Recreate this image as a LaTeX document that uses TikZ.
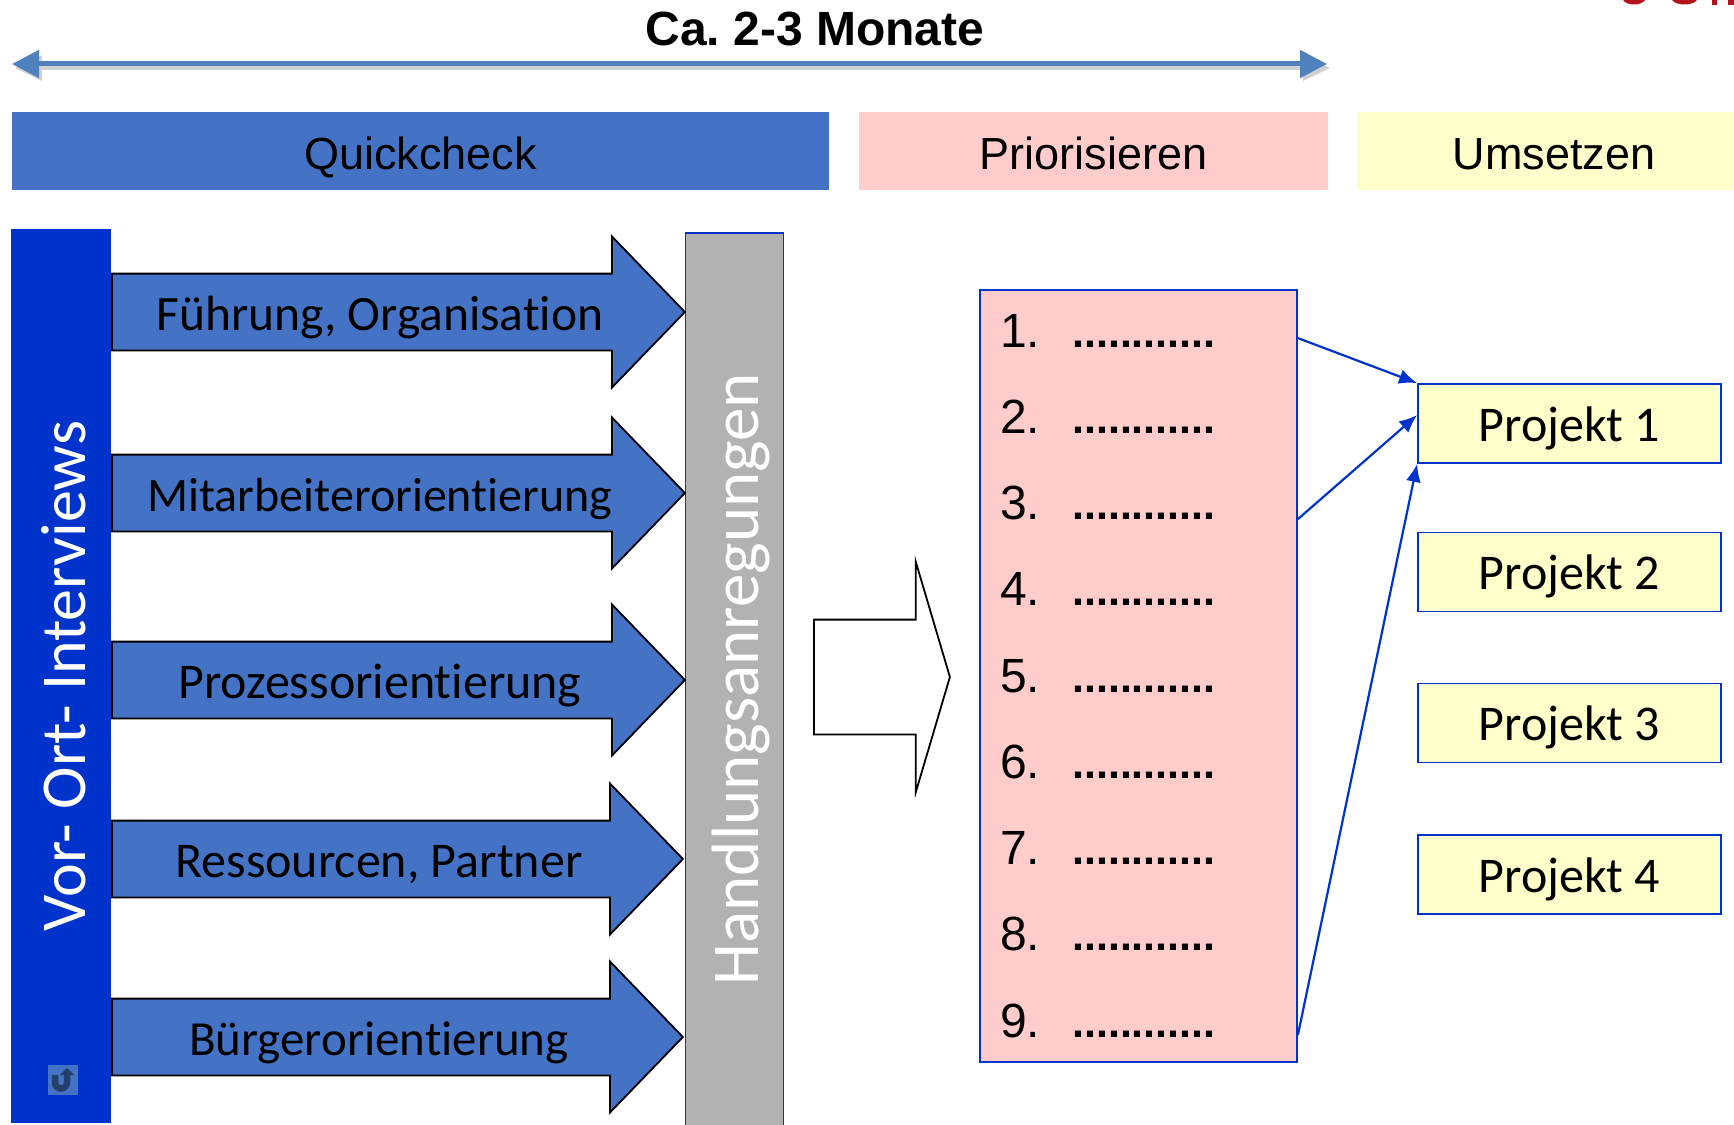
\documentclass[tikz,border=0pt]{standalone}
\usepackage{fontspec}
\setmainfont[Ligatures=NoCommon]{Carlito}
\newfontfamily\headfont{Liberation Sans}
\usepackage{tikz}
\usetikzlibrary{shapes,arrows,arrows.meta,calc,positioning}

\definecolor{barblue}{HTML}{0033CC}
\definecolor{flowblue}{HTML}{4472C4}
\definecolor{spanblue}{HTML}{4F81BD}
\definecolor{phasepink}{HTML}{FFCCCC}
\definecolor{phaseyellow}{HTML}{FFFFCC}
\definecolor{barcolor}{HTML}{B2B2B2}
\definecolor{cornerred}{HTML}{B5121B}

\tikzset{
  phase/.style={minimum height=78pt,inner sep=0pt,text height=42pt,text depth=6pt,font=\headfont\fontsize{45}{50}\selectfont},
  flow/.style={single arrow,anchor=tail,draw=black,line width=1.8pt,fill=flowblue,inner xsep=0pt,inner ysep=13.5pt,
    text height=42pt,text depth=6pt,font=\fontsize{50}{54}\selectfont,
    minimum height=573pt,single arrow head extend=37pt,single arrow tip angle=92},
  project/.style={draw=barblue,line width=1.8pt,fill=phaseyellow,minimum width=303pt,
    minimum height=79pt,inner sep=0pt,text height=41pt,text depth=6pt,font=\fontsize{50}{52}\selectfont},
  link/.style={-{Latex[length=18pt,width=15pt]},draw=barblue,line width=2.2pt}
}

\begin{document}
\begin{tikzpicture}[x=1pt,y=-1pt]
  \useasboundingbox (0,0) rectangle (1734,1124);

  % top right corner
  \fill[cornerred] (1623,0) .. controls (1627,6) and (1641,6) .. (1645,0) -- cycle;
  \fill[cornerred] (1672,0) .. controls (1676,6) and (1693,6) .. (1697,0) -- cycle;
  \fill[cornerred] (1712,0) rectangle (1717,5);
  \fill[cornerred] (1728,0) rectangle (1734,5);

  % time span
  \node[font=\headfont\bfseries\fontsize{48}{52}\selectfont] (span) at (815,29) {Ca.\ 2-3 Monate};
  \coordinate (spanl) at (12,64);
  \coordinate (spanr) at (1327,64);
  \fill[black!18] ($(spanl)+(3,4)$) -- ($(spanl)+(30,-9)$) -- ($(spanl)+(30,0)$) -- ($(spanr)+(-24,0)$) -- ($(spanr)+(-24,-9)$)
    -- ($(spanr)+(3,4)$) -- ($(spanr)+(-24,17)$) -- ($(spanr)+(-24,6)$) -- ($(spanl)+(30,6)$) -- ($(spanl)+(30,17)$) -- cycle;
  \draw[{Triangle[length=27pt,width=27pt]}-{Triangle[length=27pt,width=27pt]},spanblue,line width=5pt] (spanl) -- (spanr);

  % phases
  \node[phase,fill=flowblue,minimum width=817pt] (quick) at (420.5,151) {Quickcheck};
  \node[phase,fill=phasepink,minimum width=469pt] (prio) at (1093.5,151) {Priorisieren};
  \node[phase,fill=phaseyellow,minimum width=394pt] (umsetzen) at (1554,151) {Umsetzen};

  % bars
  \node[fill=barblue,minimum width=894pt,minimum height=100pt,inner sep=0pt,rotate=90,
    text height=55pt,text depth=7pt,text=white,font=\fontsize{64}{70}\selectfont] (vorort) at (61,676) {Vor- Ort- Interviews};
  \node[fill=barcolor,draw=barblue,line width=1.5pt,minimum width=900pt,minimum height=98pt,inner sep=0pt,rotate=90,
    text height=57pt,text depth=9pt,text=white,font=\fontsize{67}{70}\selectfont] (hand) at (734.5,683) {\hspace*{8pt}Handlungsanregungen};

  % small icon
  \node[fill=flowblue,minimum width=30pt,minimum height=30pt,inner sep=0pt] (icon) at (63,1080) {};
  \draw[flowblue!55!black,line width=6.5pt,-{Triangle[length=7pt,width=14pt]}]
    ($(icon)+(-8,-5)$) -- ($(icon)+(-8,2.5)$) arc[start angle=180,end angle=0,radius=6] -- ($(icon)+(4,-12)$);

  % flows
  \node[flow,font=\fontsize{49.5}{54}\selectfont] (f1) at (111,312) {Führung, Organisation};
  \node[flow,font=\fontsize{48}{54}\selectfont] (f2) at (111,493) {Mitarbeiterorientierung};
  \node[flow] (f3) at (111,680) {Prozessorientierung};
  \node[flow,minimum height=571pt] (f4) at (111,859) {Ressourcen, Partner};
  \node[flow,minimum height=571pt,font=\fontsize{49}{54}\selectfont] (f5) at (111,1037) {Bürgerorientierung};

  % big arrow
  \node[single arrow,anchor=tail,draw=black,line width=1.8pt,fill=white,inner xsep=0pt,inner ysep=56.5pt,
    minimum height=136pt,single arrow head extend=58pt,single arrow tip angle=147] (big) at (813,677) {};

  % list
  \node[draw=barblue,line width=1.8pt,fill=phasepink,minimum width=317pt,minimum height=772pt,inner sep=0pt] (list) at (1138.5,676) {};
  \foreach \n in {1,...,9} {
    \node[anchor=base west,inner sep=0pt,font=\headfont\fontsize{48}{54}\selectfont] (num\n) at (1000,347+86.25*\n-86.25) {\n.};
    \node[anchor=base west,inner sep=0pt,font=\headfont\bfseries\fontsize{43}{48}\selectfont] (dots\n) at (1072,347+86.25*\n-86.25) {............};
  }

  % projects
  \node[project] (p1) at (1569.5,423.5) {Projekt 1};
  \node[project] (p2) at (1569.5,572) {Projekt 2};
  \node[project] (p3) at (1569.5,723) {Projekt 3};
  \node[project] (p4) at (1569.5,874.5) {Projekt 4};

  \draw[link] ($(list.north east)+(0,49)$) -- (p1.north west);
  \draw[link] ($(list.north east)+(0,230)$) -- ($(p1.north west)+(0,32)$);
  \draw[link] ($(list.south east)+(0,-28)$) -- (p1.south west);
\end{tikzpicture}
\end{document}
